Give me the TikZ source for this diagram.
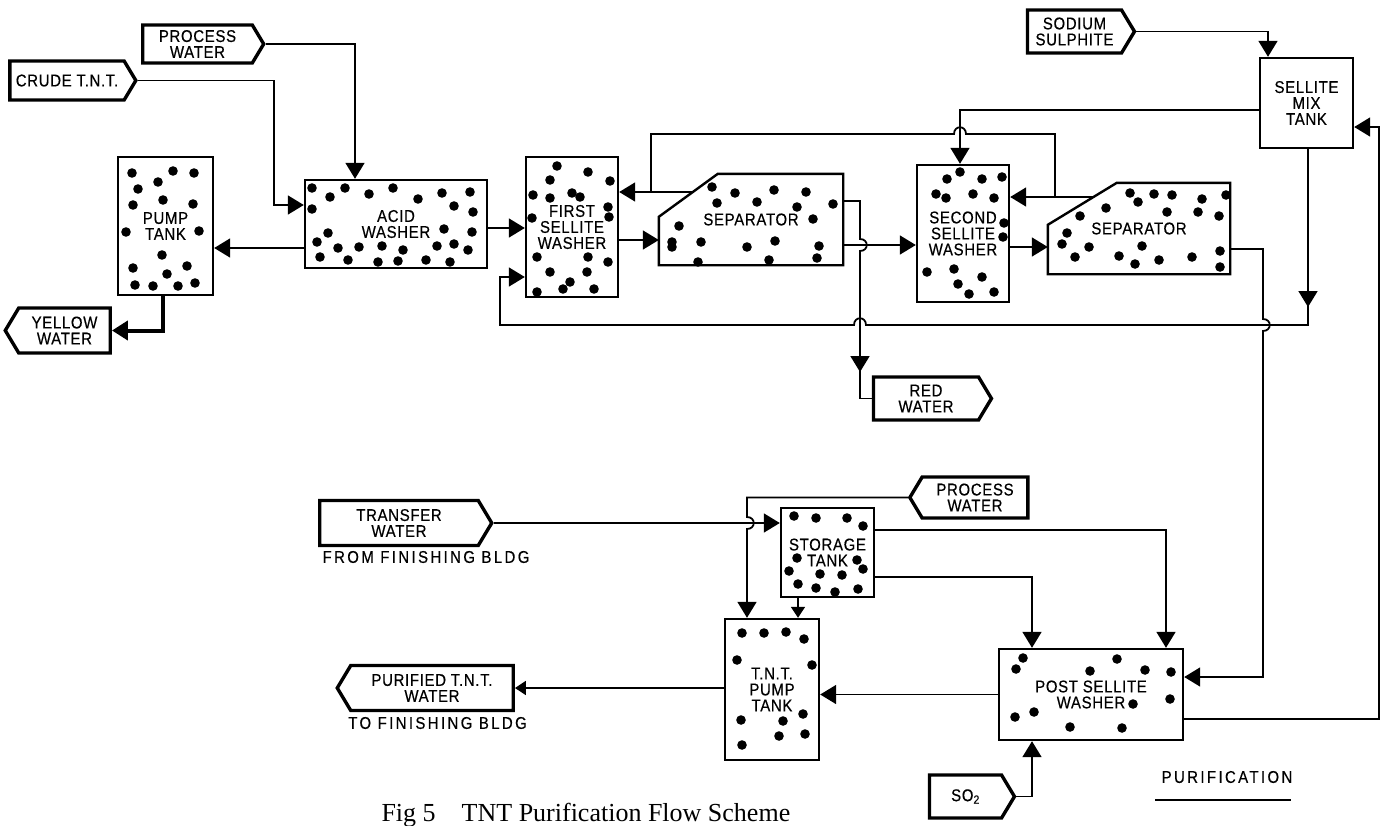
\documentclass[tikz,border=0pt]{standalone}
\usepackage{fontspec}
\setmainfont{Liberation Sans}[FakeStretch=0.88,LetterSpace=4,FakeBold=0.4]
\newfontfamily\spacedfont{Liberation Sans}[FakeStretch=0.88,LetterSpace=14,FakeBold=0.4]
\newfontfamily\capfont{Liberation Serif}
\usetikzlibrary{positioning,arrows.meta,shapes.symbols,calc}

\begin{document}
\begin{tikzpicture}[
  x=1pt,y=-1pt,
  font=\fontsize{17}{16}\selectfont,
  box/.style 2 args={draw,line width=2.4pt,inner sep=0pt,align=center,minimum width=#1,minimum height=#2},
  sepbox/.style 2 args={inner sep=0pt,align=center,minimum width=#1,minimum height=#2},
  tag/.style={signal,draw,line width=3.4pt,align=center,inner sep=2pt,signal pointer angle=118},
  tagE/.style={tag,signal to=east},
  tagW/.style={tag,signal to=west},
  flow/.style={line width=1.8pt},
  note/.style={font=\spacedfont\fontsize{17}{16}\selectfont},
  small/.style={-{Triangle[length=11pt,width=14pt]}},
  >={Triangle[length=16pt,width=19pt]},
]
\path[use as bounding box,fill=white] (0,0) rectangle (1384,825);

% vessels
\node[box={95pt}{138pt}] (pump) at (165.5,226) {PUMP\\TANK};
\node[box={182pt}{88pt}] (acid) at (396,224) {ACID\\WASHER};
\node[box={92pt}{140pt}] (wash1) at (572,227) {FIRST\\SELLITE\\WASHER};
\node[sepbox={184pt}{91pt}] (sep1) at (751,219.5) {SEPARATOR};
\node[box={92pt}{137pt}] (wash2) at (963,233.5) {SECOND\\SELLITE\\WASHER};
\node[sepbox={182pt}{91pt}] (sep2) at (1139,228.5) {SEPARATOR};
\node[box={93pt}{90pt}] (mix) at (1306.5,103) {SELLITE\\MIX\\TANK};
\node[box={93pt}{89pt}] (store) at (827.5,552.5) {STORAGE\\TANK};
\node[box={94pt}{141pt}] (tntpump) at (772,689.5) {T.N.T.\\PUMP\\TANK};
\node[box={184pt}{91pt}] (post) at (1091,694.5) {POST SELLITE\\WASHER};

% separator outlines, cut corner top left
\foreach \s/\cx/\cy in {sep1/59/43,sep2/69/42}
  \draw[line width=2.4pt] (\s.south west) -- ([yshift=-\cy pt]\s.north west)
    -- ([xshift=\cx pt]\s.north west) -- (\s.north east) -- (\s.south east) -- cycle;

% charge in the vessels
\foreach \p in {(132,173),(173,171),(194,173),(158,182),(138,189),(163,200),(133,205),(193,204),
  (126,232),(199,231),(162,255),(133,268),(187,266),(167,274),(135,285),(153,286),(178,286),(195,283),
  (312,188),(330,197),(345,188),(369,194),(393,188),(418,199),(442,193),(470,192),(454,206),(473,212),
  (312,209),(328,233),(444,229),(472,232),(317,242),(338,248),(359,247),(382,246),(403,250),(437,246),
  (454,244),(468,250),(320,257),(348,260),(378,262),(398,261),(426,260),(450,262),
  (557,166),(588,172),(550,180),(610,181),(533,195),(572,193),(550,198),(580,197),(608,207),(532,218),
  (609,217),(537,257),(588,257),(608,262),(550,272),(587,272),(570,282),(537,292),(563,289),(594,289),
  (712,187),(735,193),(774,190),(806,192),(757,202),(797,207),(833,204),(717,203),(813,219),(679,226),
  (672,242),(672,247),(701,242),(747,247),(775,241),(819,246),(817,258),(698,262),(769,260),
  (960,172),(947,179),(982,179),(1002,177),(936,194),(946,198),(973,194),(994,198),(1004,223),
  (1003,237),(927,272),(954,269),(982,277),(958,284),(969,294),(994,292),
  (1130,193),(1154,194),(1172,195),(1202,199),(1226,195),(1138,202),(1106,208),(1080,216),(1167,212),
  (1198,212),(1219,216),(1067,233),(1062,244),(1089,247),(1142,246),(1075,257),(1119,256),(1135,264),
  (1159,260),(1192,257),(1220,251),(1220,267),
  (794,516),(816,518),(847,518),(863,526),(797,558),(857,560),(789,571),(820,574),(842,575),(863,569),
  (798,584),(816,588),(835,592),(858,589),
  (742,633),(764,633),(786,632),(804,639),(737,660),(812,665),(741,720),(783,721),(803,714),(779,736),
  (805,734),(742,745),
  (1023,658),(1016,669),(1117,659),(1090,671),(1145,670),(1171,672),(1170,699),(1133,704),(1015,717),
  (1034,712),(1070,727),(1122,728)}
  \fill \p circle[radius=4.8pt];

% streams in and out
\node[tagE,minimum width=121pt,minimum height=38pt] (pwA) at (197.5,44) {PROCESS\\WATER};
\node[tagE,minimum width=126pt,minimum height=39pt] (crude) at (67,80.5) {CRUDE T.N.T.};
\node[tagW,minimum width=105pt,minimum height=45pt] (yellow) at (64.5,330.5) {YELLOW\\WATER};
\node[tagE,minimum width=118pt,minimum height=43pt] (red) at (926,398.5) {RED\\WATER};
\node[tagE,minimum width=107pt,minimum height=43pt] (sodium) at (1074.5,31.5) {SODIUM\\SULPHITE};
\node[tagE,minimum width=172pt,minimum height=45pt] (transfer) at (399,523) {TRANSFER\\WATER};
\node[tagW,minimum width=118pt,minimum height=41pt] (pwB) at (975,497.5) {PROCESS\\WATER};
\node[tagW,minimum width=176pt,minimum height=45pt] (purified) at (432,688) {PURIFIED T.N.T.\\WATER};
\node[tagE,minimum width=85pt,minimum height=43pt] (so2) at (965.5,796.5) {SO\textsubscript{2}};

% notes
\node[note] (from) at (426,557) {FROM FINISHING BLDG};
\node[note] (to) at (437.5,723) {TO FINISHING BLDG};
\node[note] (purif) at (1227,777) {PURIFICATION};
\draw[line width=1.6pt] ([xshift=-72pt,yshift=-23pt]purif.center) -- ([xshift=64pt,yshift=-23pt]purif.center);
\node[font=\capfont\fontsize{26}{26}\selectfont,anchor=base west] (cap) at (378,821) {Fig 5\quad TNT Purification Flow Scheme};

% acid wash
\draw[flow,->] (pwA.east) -| ([xshift=-41pt]acid.north);
\draw[flow,->] (crude.east) -| ([xshift=-30pt,yshift=19pt]acid.west) -- ([yshift=19pt]acid.west);
\draw[flow,->] ([yshift=-24pt]acid.west) -- ([yshift=-24pt]acid.west -| pump.east);
\draw[line width=4pt,->] ([xshift=-3pt]pump.south) |- (yellow.east);
\draw[flow,->] ([yshift=-4pt]acid.east) -- ([yshift=-4pt]acid.east -| wash1.west);

% sellite washing
\draw[flow,->] ([yshift=-13pt]wash1.east) -- ([yshift=-13pt]wash1.east -| sep1.west);
\coordinate (s1c) at (693,192);
\coordinate (s2c) at (1094,197);
\draw[flow,->] (s1c) -- (s1c -| wash1.east);
\draw[flow,->] (s2c) -- (s2c -| wash2.east);
\draw[flow] ([xshift=-39pt]s2c) -- (1055,134) -- (966,134) .. controls (966,125) and (954,125) .. (954,134)
  -- (651,134) -- (651,192);
\draw[flow,->] ([yshift=-7pt]mix.west) -| ([xshift=-3pt]wash2.north);
\draw[flow,->] ([yshift=-25.5pt]sep1.east) -- ([yshift=-25.5pt]sep1.east -| wash2.west);
\draw[flow,->] ([yshift=18.5pt]sep1.east) -| (860,239) .. controls (869,239) and (869,251) .. (860,251) -- (860,372);
\draw[flow] (860,365) |- (red.west);
\draw[flow,->] ([yshift=-13.5pt]wash2.east) -- ([yshift=-13.5pt]wash2.east -| sep2.west);
\draw[flow,->] (sodium.east) -| ([xshift=-38.5pt]mix.north);
\draw[flow,->] ([xshift=1.5pt]mix.south) -- (1308,307);
\draw[flow,->] (1308,300) -- (1308,325) -- (866,325) .. controls (866,316) and (854,316) .. (854,325)
  -- (500,325) |- ([yshift=-50pt]wash1.west);
\draw[flow,->] ([yshift=-20.5pt]sep2.east) -| (1263,319) .. controls (1272,319) and (1272,331) .. (1263,331)
  |- ([yshift=17.5pt]post.east);
\draw[flow,->] ([yshift=-24.5pt]post.east) -| ([xshift=25pt,yshift=-24pt]mix.east) -- ([yshift=-24pt]mix.east);

% post washing
\draw[flow,->] (transfer.east) -- (transfer.east -| store.west);
\draw[flow,->] (pwB.west) -| (747,517) .. controls (756,517) and (756,529) .. (747,529) -- ([xshift=-25pt]tntpump.north);
\draw[flow,small] ([xshift=-29.5pt]store.south) -- ([xshift=-29.5pt]store.south |- tntpump.north);
\draw[flow,->] ([yshift=22.5pt]store.east) -| ([xshift=75pt]post.north);
\draw[flow,->] ([yshift=-24.5pt]store.east) -| ([xshift=-59pt]post.north);
\draw[flow,->] (post.west) -- (post.west -| tntpump.east);
\draw[flow,small] (tntpump.west |- purified.east) -- (purified.east);
\draw[flow,->] (so2.east) -| ([xshift=-59pt]post.south);
\end{tikzpicture}
\end{document}
